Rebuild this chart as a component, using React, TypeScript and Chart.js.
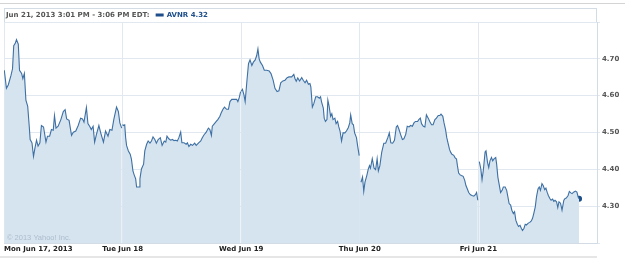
import React, { useEffect, useRef } from 'react';
import { Chart, registerables } from 'chart.js';

Chart.register(...registerables);

// ---------- data ----------
const DAY_MINUTES = 390; // 9:30 - 16:00
const dayLabels = ['Mon Jun 17, 2013', 'Tue Jun 18', 'Wed Jun 19', 'Thu Jun 20', 'Fri Jun 21'];
const yTickValues = [4.3, 4.4, 4.5, 4.6, 4.7];
const legendTitle = 'Jun 21, 2013 3:01 PM - 3:06 PM EDT:';
const symbolName = 'AVNR';
const lastQuote = '4.32';
const copyrightText = '\u00A9 2013 Yahoo! Inc.';

// [minutes after open, price]
const monday: [number, number][] = [
  [1, 4.669], [8, 4.62], [14, 4.629], [23, 4.655], [28, 4.673], [32, 4.736], [37, 4.742], [41, 4.752],
  [47, 4.74], [51, 4.669], [58, 4.66], [62, 4.646], [67, 4.66], [72, 4.588], [78, 4.571], [83, 4.517],
  [86, 4.481], [92, 4.472], [97, 4.435], [102, 4.459], [107, 4.479], [112, 4.463], [118, 4.472], [123, 4.519],
  [130, 4.515], [138, 4.474], [143, 4.49], [150, 4.49], [156, 4.508], [162, 4.506], [166, 4.546], [171, 4.512],
  [178, 4.517], [187, 4.535], [195, 4.557], [201, 4.562], [206, 4.537], [214, 4.533], [222, 4.492], [228, 4.501],
  [236, 4.504], [244, 4.519], [252, 4.539], [258, 4.537], [263, 4.528], [271, 4.568], [276, 4.524], [283, 4.515],
  [287, 4.508], [293, 4.517], [298, 4.474], [304, 4.495], [312, 4.519], [318, 4.499], [327, 4.474], [334, 4.504],
  [342, 4.49], [348, 4.508], [355, 4.506], [361, 4.535], [370, 4.569], [376, 4.557], [381, 4.526], [387, 4.512],
];

const tuesday: [number, number][] = [
  [0, 4.522], [2, 4.519], [7, 4.521], [10, 4.486], [13, 4.465], [19, 4.45], [25, 4.441], [29, 4.428],
  [34, 4.396], [38, 4.385], [43, 4.374], [46, 4.352], [54, 4.352], [57, 4.374], [62, 4.401], [69, 4.414],
  [73, 4.45], [79, 4.468], [84, 4.477], [90, 4.471], [95, 4.477], [100, 4.488], [106, 4.481], [111, 4.471],
  [117, 4.481], [124, 4.486], [130, 4.465], [137, 4.477], [142, 4.474], [146, 4.49], [152, 4.483], [158, 4.479],
  [164, 4.481], [169, 4.478], [175, 4.479], [180, 4.477], [185, 4.486], [191, 4.501], [195, 4.472], [202, 4.472],
  [209, 4.468], [213, 4.472], [218, 4.462], [224, 4.468], [230, 4.465], [237, 4.471], [242, 4.465], [250, 4.472],
  [257, 4.477], [262, 4.486], [268, 4.494], [275, 4.501], [282, 4.512], [287, 4.508], [292, 4.492], [295, 4.517],
  [302, 4.524], [308, 4.53], [313, 4.535], [320, 4.544], [324, 4.553], [330, 4.563], [335, 4.569], [342, 4.563],
  [348, 4.563], [353, 4.584], [359, 4.59], [368, 4.59], [375, 4.59], [379, 4.584], [384, 4.596], [388, 4.611],
];

const wednesday: [number, number][] = [
  [0, 4.612], [4, 4.617], [9, 4.602], [13, 4.584], [19, 4.642], [24, 4.687], [29, 4.697], [35, 4.682],
  [40, 4.691], [46, 4.697], [51, 4.709], [55, 4.727], [59, 4.7], [63, 4.691], [70, 4.682], [76, 4.669],
  [84, 4.669], [92, 4.667], [98, 4.66], [105, 4.642], [111, 4.62], [118, 4.611], [124, 4.613], [130, 4.635],
  [137, 4.64], [144, 4.642], [151, 4.649], [157, 4.651], [166, 4.651], [173, 4.658], [177, 4.646], [181, 4.639],
  [186, 4.648], [192, 4.64], [199, 4.649], [204, 4.642], [210, 4.635], [215, 4.642], [221, 4.631], [226, 4.633],
  [229, 4.624], [234, 4.569], [239, 4.579], [245, 4.597], [251, 4.597], [257, 4.593], [261, 4.597], [264, 4.584],
  [270, 4.566], [273, 4.539], [277, 4.53], [282, 4.535], [285, 4.588], [289, 4.572], [294, 4.544], [298, 4.551],
  [302, 4.535], [308, 4.539], [312, 4.524], [317, 4.53], [321, 4.515], [325, 4.504], [330, 4.477], [335, 4.499],
  [341, 4.499], [346, 4.504], [352, 4.513], [357, 4.526], [360, 4.548], [365, 4.524], [369, 4.521], [373, 4.499],
  [379, 4.486], [383, 4.463], [388, 4.437],
];

const thursday: [number, number][] = [
  [4, 4.365], [9, 4.379], [13, 4.34], [17, 4.365], [23, 4.383], [28, 4.401], [32, 4.41], [35, 4.403],
  [41, 4.429], [47, 4.403], [52, 4.399], [57, 4.429], [61, 4.396], [66, 4.41], [72, 4.446], [79, 4.471],
  [85, 4.471], [92, 4.486], [97, 4.499], [102, 4.472], [108, 4.471], [114, 4.479], [120, 4.515], [124, 4.519],
  [129, 4.508], [134, 4.495], [140, 4.481], [145, 4.483], [151, 4.495], [156, 4.517], [162, 4.515], [167, 4.519],
  [173, 4.517], [178, 4.526], [183, 4.53], [190, 4.53], [194, 4.535], [199, 4.539], [203, 4.524], [209, 4.517],
  [214, 4.515], [219, 4.548], [225, 4.539], [230, 4.53], [236, 4.521], [241, 4.521], [247, 4.535], [252, 4.539],
  [258, 4.546], [263, 4.546], [267, 4.55], [273, 4.544], [277, 4.526], [282, 4.508], [286, 4.486], [290, 4.472],
  [295, 4.454], [299, 4.446], [303, 4.441], [309, 4.438], [313, 4.432], [318, 4.428], [321, 4.41], [325, 4.39],
  [330, 4.385], [334, 4.383], [340, 4.381], [345, 4.37], [349, 4.356], [354, 4.346], [358, 4.337], [364, 4.331],
  [369, 4.329], [375, 4.327], [380, 4.331], [384, 4.337], [388, 4.316],
];

const friday: [number, number][] = [
  [3, 4.421], [8, 4.401], [12, 4.372], [16, 4.396], [22, 4.447], [25, 4.45], [30, 4.419], [34, 4.405],
  [38, 4.423], [43, 4.432], [47, 4.423], [52, 4.429], [57, 4.432], [60, 4.414], [64, 4.379], [69, 4.356],
  [73, 4.337], [78, 4.343], [82, 4.352], [88, 4.352], [93, 4.343], [97, 4.325], [101, 4.307], [106, 4.303],
  [110, 4.289], [115, 4.28], [119, 4.285], [123, 4.262], [128, 4.251], [132, 4.245], [137, 4.248], [141, 4.24],
  [145, 4.234], [150, 4.24], [154, 4.251], [158, 4.249], [164, 4.254], [169, 4.256], [174, 4.26], [178, 4.267],
  [182, 4.28], [187, 4.298], [191, 4.325], [196, 4.347], [200, 4.352], [204, 4.343], [209, 4.361], [213, 4.356],
  [218, 4.345], [222, 4.349], [226, 4.338], [230, 4.329], [235, 4.321], [239, 4.316], [244, 4.319], [248, 4.313],
  [252, 4.316], [257, 4.312], [261, 4.296], [265, 4.312], [270, 4.308], [275, 4.289], [281, 4.316], [285, 4.321],
  [289, 4.322], [295, 4.329], [299, 4.34], [304, 4.336], [308, 4.334], [313, 4.338], [319, 4.341], [324, 4.338],
  [328, 4.325], [331, 4.32],
];

const tradingDays = [monday, tuesday, wednesday, thursday, friday];

// ---------- styles ----------
const LINE_COLOR = '#3e70a3';
const FILL_COLOR = '#d6e4f0';
const DOT_COLOR = '#1d4f88';
const GRID_COLOR = '#e1e8ef';
const BORDER_COLOR = '#d3dce5';
const BOLD_FONT = 'bold 7px "DejaVu Sans", Verdana, sans-serif';

export default function App() {
  const canvasRef = useRef<HTMLCanvasElement | null>(null);

  useEffect(() => {
    const canvas = canvasRef.current;
    if (!canvas) return;

    const points: { x: number; y: number }[] = [];
    const dayOfPoint: number[] = [];
    tradingDays.forEach((day, d) => {
      day.forEach(([m, p]) => {
        points.push({ x: d * DAY_MINUTES + m, y: p });
        dayOfPoint.push(d);
      });
    });
    const last = points[points.length - 1];

    const framePlugin = {
      id: 'yahooFrame',
      beforeDraw(chart: any) {
        const ctx = chart.ctx as CanvasRenderingContext2D;
        const area = chart.chartArea;
        ctx.save();
        ctx.fillStyle = '#ffffff';
        ctx.fillRect(0, 0, chart.width, chart.height);
        // top rule
        ctx.fillStyle = '#d4d4d4';
        ctx.fillRect(0, 3, chart.width, 1);
        // legend box
        ctx.strokeStyle = BORDER_COLOR;
        ctx.lineWidth = 1;
        ctx.strokeRect(area.left + 0.5, 8.5, area.right - area.left - 1, area.top - 8);
        // bottom band
        ctx.fillStyle = '#e6e6e6';
        ctx.fillRect(0, chart.height - 2, area.right, 2);
        ctx.restore();
      },
      afterDraw(chart: any) {
        const ctx = chart.ctx as CanvasRenderingContext2D;
        const area = chart.chartArea;
        const xScale = chart.scales.x;
        ctx.save();
        // legend
        ctx.font = BOLD_FONT;
        ctx.textBaseline = 'middle';
        ctx.textAlign = 'left';
        ctx.fillStyle = '#555555';
        const ly = 15.5;
        ctx.fillText(legendTitle, area.left + 2, ly);
        const tw = ctx.measureText(legendTitle).width;
        const sx = area.left + 2 + tw + 6;
        ctx.fillStyle = '#1f4f8a';
        ctx.fillRect(sx, 13.5, 8, 3);
        ctx.fillText(symbolName + ' ' + lastQuote, sx + 11, ly);
        // x labels
        ctx.fillStyle = '#222222';
        dayLabels.forEach((lab, i) => {
          const px = xScale.getPixelForValue(i * DAY_MINUTES);
          ctx.textAlign = i === 0 ? 'left' : 'center';
          ctx.fillText(lab, i === 0 ? px : px, 249.5);
        });
        // copyright
        ctx.font = '7.5px "Liberation Sans", Arial, sans-serif';
        ctx.fillStyle = '#adbccb';
        ctx.textAlign = 'left';
        ctx.fillText(copyrightText, area.left + 3, area.bottom - 5);
        ctx.restore();
      },
    };

    const chart = new Chart(canvas, {
      type: 'line',
      data: {
        datasets: [
          {
            data: points,
            borderColor: LINE_COLOR,
            borderWidth: 1.1,
            backgroundColor: FILL_COLOR,
            fill: 'start',
            pointRadius: 0,
            tension: 0,
            segment: {
              borderColor: (ctx: any) =>
                dayOfPoint[ctx.p0DataIndex] !== dayOfPoint[ctx.p1DataIndex] ? 'rgba(0,0,0,0)' : LINE_COLOR,
            },
          } as any,
          {
            data: [last],
            showLine: false,
            pointRadius: 3,
            pointBackgroundColor: DOT_COLOR,
            pointBorderColor: DOT_COLOR,
            pointBorderWidth: 0,
          } as any,
        ],
      },
      options: {
        animation: false,
        responsive: false,
        events: [],
        layout: { padding: { top: 22, left: 3, right: 0, bottom: 0 } },
        plugins: { legend: { display: false }, tooltip: { enabled: false }, title: { display: false } },
        scales: {
          x: {
            type: 'linear',
            min: 0,
            max: DAY_MINUTES * 5,
            z: 1,
            ticks: { display: false, stepSize: DAY_MINUTES },
            grid: { color: GRID_COLOR, drawTicks: false, lineWidth: 1 },
            border: { color: BORDER_COLOR },
            afterFit: (scale: any) => {
              scale.height = 15;
            },
          },
          y: {
            type: 'linear',
            position: 'right',
            min: 4.2,
            max: 4.8,
            z: 1,
            ticks: {
              stepSize: 0.1,
              padding: 2,
              color: '#555555',
              font: { family: '"DejaVu Sans", Verdana, sans-serif', size: 7, weight: 'bold' },
              callback: (v: any) =>
                yTickValues.some((t) => Math.abs(t - Number(v)) < 1e-6) ? Number(v).toFixed(2) : '',
            },
            grid: { color: GRID_COLOR, tickLength: 3, lineWidth: 1 },
            border: { color: BORDER_COLOR },
            afterFit: (scale: any) => {
              scale.width = 28;
            },
          },
        },
      } as any,
      plugins: [framePlugin],
    });

    return () => chart.destroy();
  }, []);

  return (
    <div style={{ position: 'absolute', left: 0, top: 0, width: 625, height: 258, background: '#fff' }}>
      <canvas ref={canvasRef} width={625} height={258} style={{ display: 'block', width: 625, height: 258 }} />
    </div>
  );
}
